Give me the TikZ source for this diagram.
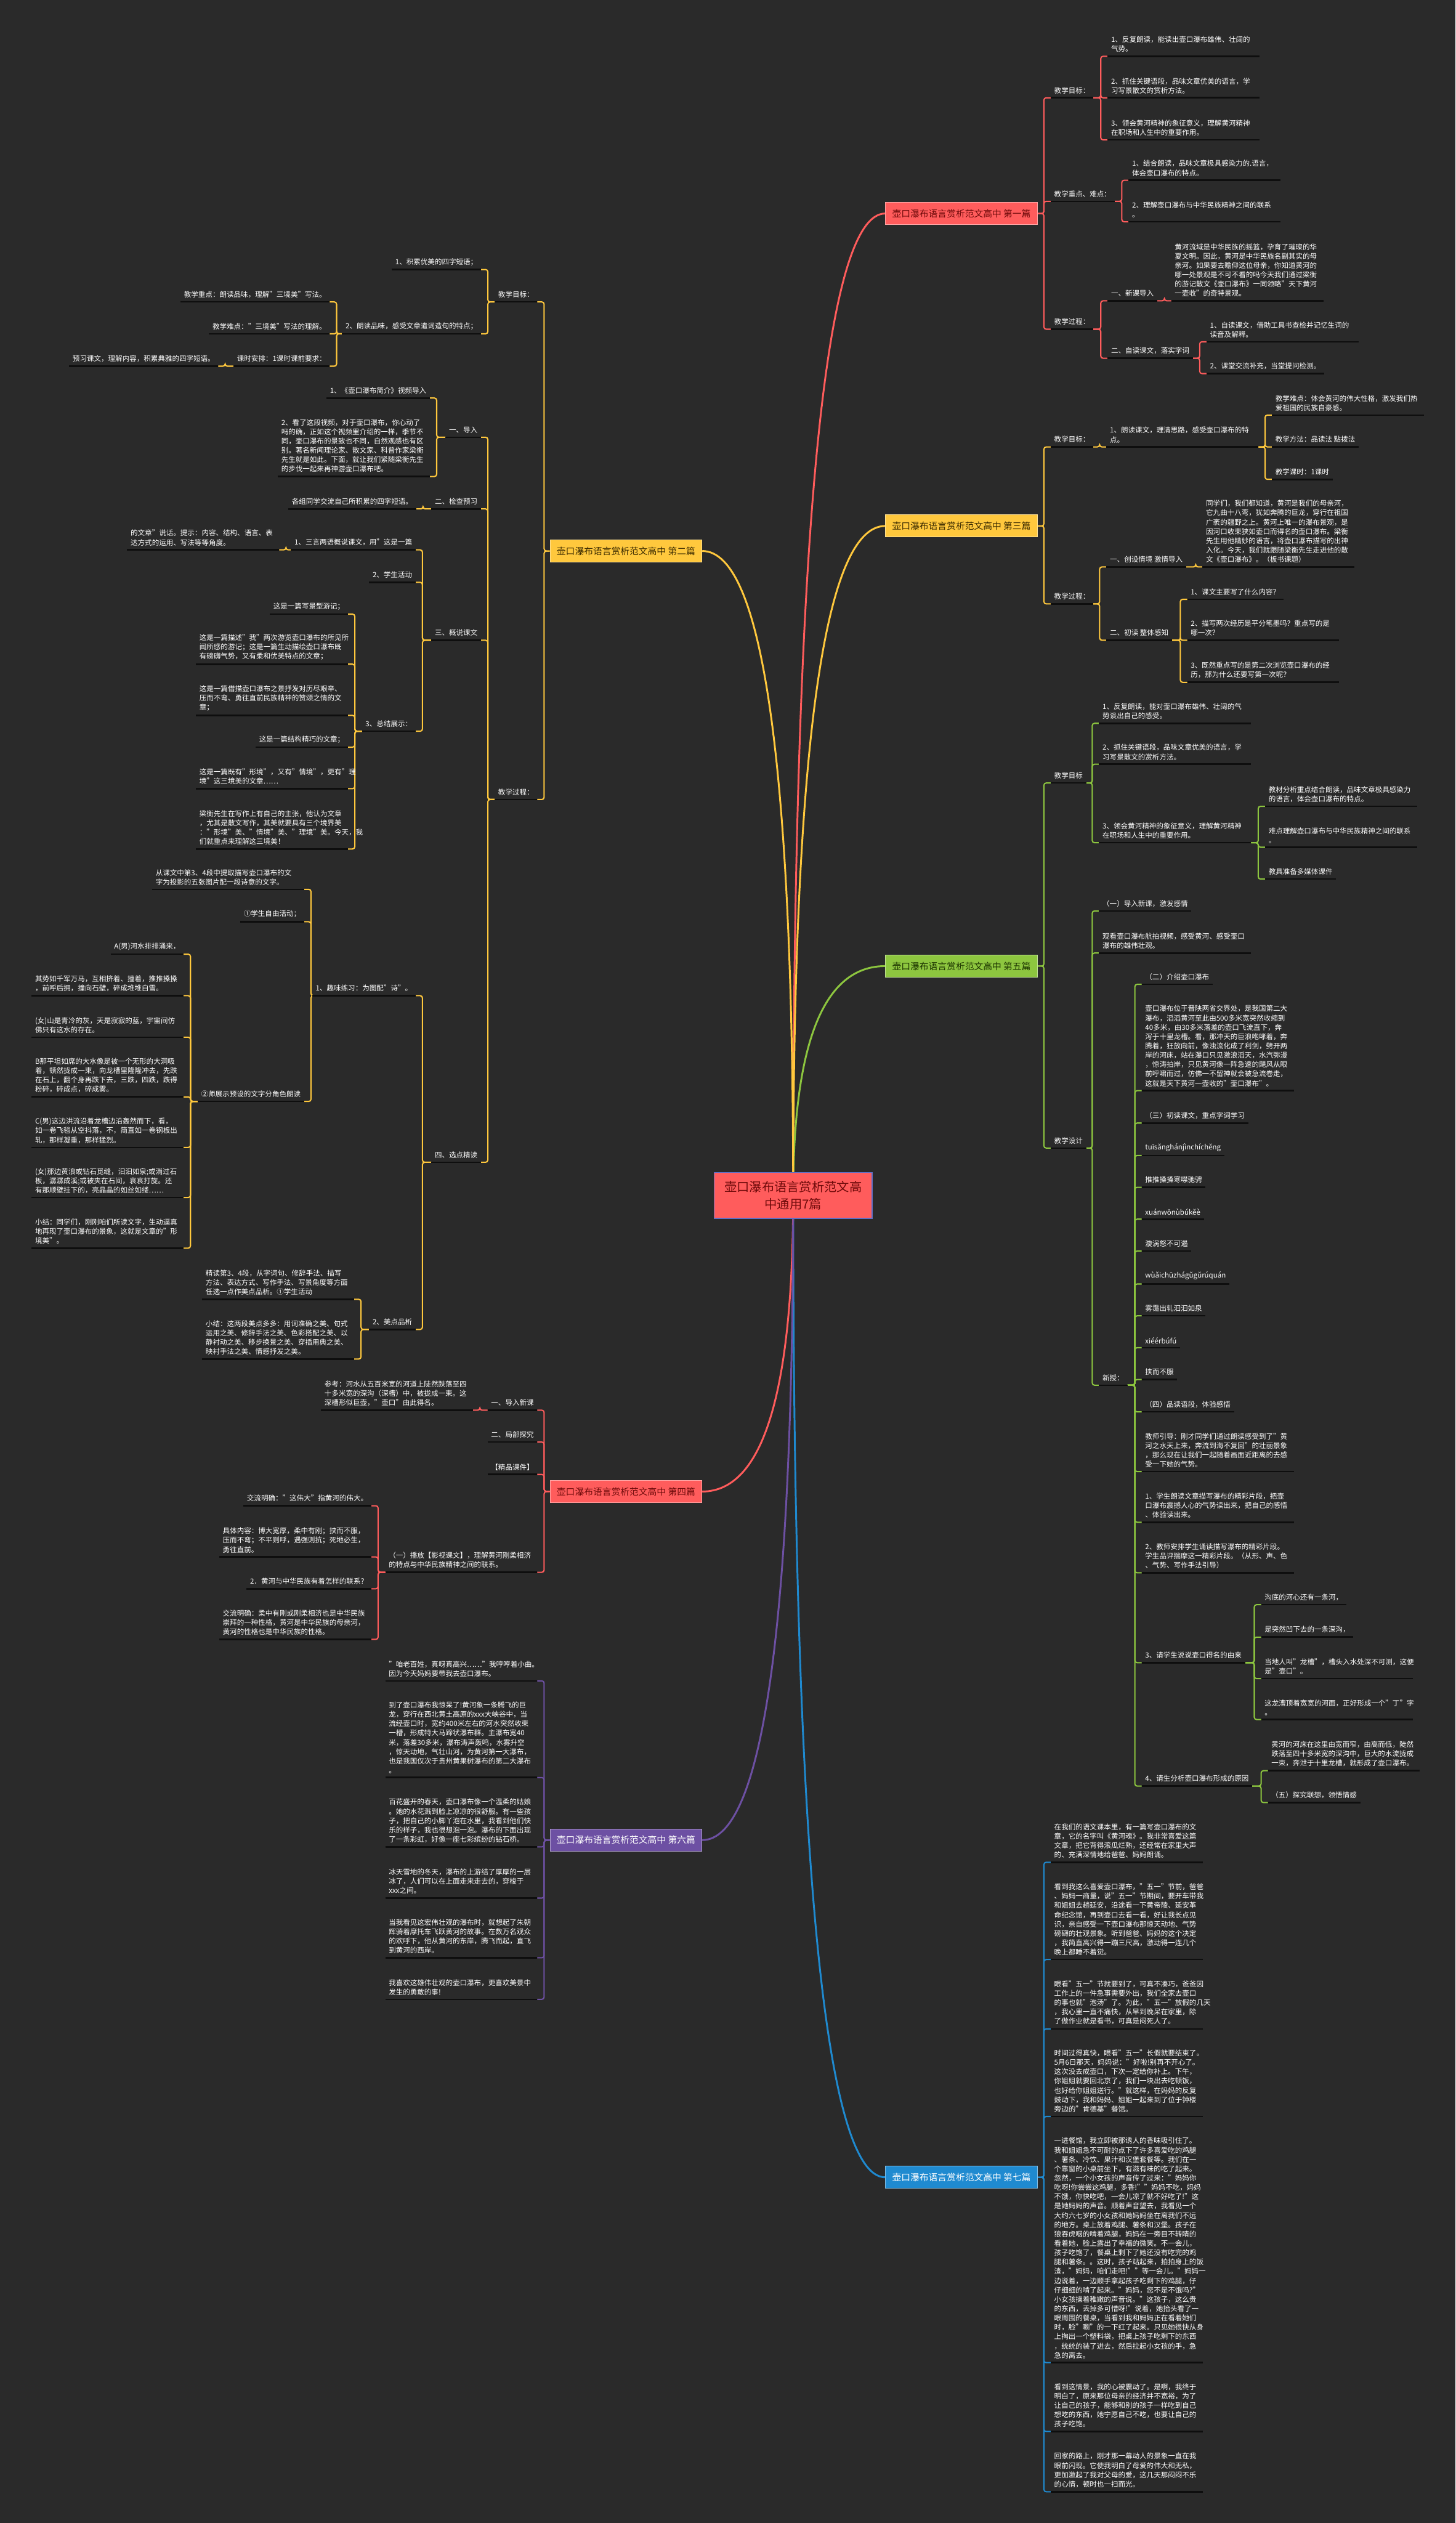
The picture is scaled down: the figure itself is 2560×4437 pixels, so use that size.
\documentclass[tikz,border=0pt]{standalone}
\usepackage{fontspec}
\setmainfont{Noto Sans CJK SC}
\usetikzlibrary{calc}
\definecolor{bgc}{HTML}{2A2A2A}
\definecolor{cred}{HTML}{FF5C5C}
\definecolor{cyel}{HTML}{FFC83D}
\definecolor{cgrn}{HTML}{8DC63F}
\definecolor{cblu}{HTML}{1F8AD0}
\definecolor{cpur}{HTML}{6D50A3}
\definecolor{ulc}{HTML}{0E0E0E}
\definecolor{tred}{HTML}{6E0A0A}
\definecolor{tdark}{HTML}{3A2A00}
\definecolor{tgrn}{HTML}{1B3300}
\definecolor{cbord}{HTML}{5E6FC6}
\pgfdeclarelayer{bg}\pgfdeclarelayer{lines}
\pgfsetlayers{bg,lines,main}
\newcommand\fs{\fontsize{12.5}{16.4}\selectfont}
\begin{document}
\begin{tikzpicture}[x=1pt,y=-1pt,
 leaf/.style={font=\fs, text=white, align=left, inner xsep=6pt, inner ysep=7pt},
 R/.style={leaf, anchor=south west},
 L/.style={leaf, anchor=south east},
 M/.style={text width=255pt},
 title/.style={font=\fontsize{16}{20}\selectfont, minimum width=267pt, minimum height=39pt, inner sep=0pt, line width=1.2pt},
 ul/.style={draw=ulc, line width=2.8pt},
 con/.style={line width=2.2pt, rounded corners=4pt},
 cv/.style={line width=3.2pt}]
\useasboundingbox (0,0) rectangle (2560,4437);
\begin{pgfonlayer}{bg}\fill[bgc] (0,0) rectangle (2560,4437);\end{pgfonlayer}

% centre
\node[fill=cred, draw=cbord, line width=2pt, text=tred, font=\fontsize{22}{30}\selectfont, align=center, minimum width=278pt, minimum height=81pt, inner sep=0pt] (c) at (1395,2102.5) {壶口瀑布语言赏析范文高\\中通用7篇};

% title boxes
\node[title, fill=cred, draw=cred!55!white, text=tred] (b1) at (1691,375.5) {壶口瀑布语言赏析范文高中 第一篇};
\node[title, fill=cyel, draw=cyel!55!white, text=tdark] (b3) at (1691,925) {壶口瀑布语言赏析范文高中 第三篇};
\node[title, fill=cgrn, draw=cgrn!55!white, text=tgrn] (b5) at (1691,1699) {壶口瀑布语言赏析范文高中 第五篇};
\node[title, fill=cblu, draw=cblu!55!white, text=white] (b7) at (1691,3829) {壶口瀑布语言赏析范文高中 第七篇};
\node[title, fill=cyel, draw=cyel!55!white, text=tdark] (b2) at (1101,969) {壶口瀑布语言赏析范文高中 第二篇};
\node[title, fill=cred, draw=cred!55!white, text=tred] (b4) at (1101,2623) {壶口瀑布语言赏析范文高中 第四篇};
\node[title, fill=cpur, draw=cpur!55!white, text=white] (b6) at (1101,3236) {壶口瀑布语言赏析范文高中 第六篇};

% ---------- 第一篇
\node[R] (n1a) at (1848,172) {教学目标：};
\node[R,M] (n1a1) at (1948,99) {1、反复朗读，能读出壶口瀑布雄伟、壮阔的\\气势。};
\node[R,M] (n1a2) at (1948,172) {2、抓住关键语段，品味文章优美的语言，学\\习写景散文的赏析方法。};
\node[R,M] (n1a3) at (1948,246) {3、领会黄河精神的象征意义，理解黄河精神\\在职场和人生中的重要作用。};
\node[R] (n1b) at (1848,354) {教学重点、难点：};
\node[R,M] (n1b1) at (1985,317) {1、结合朗读，品味文章极具感染力的.语言，\\体会壶口瀑布的特点。};
\node[R,M] (n1b2) at (1985,390) {2、理解壶口瀑布与中华民族精神之间的联系\\。};
\node[R] (n1c) at (1848,579) {教学过程：};
\node[R] (n1c1) at (1948,529) {一、新课导入};
\node[R,M] (n1c1a) at (2060,529) {黄河流域是中华民族的摇篮，孕育了璀璨的华\\夏文明。因此，黄河是中华民族名副其实的母\\亲河。如果要去瞻仰这位母亲，你知道黄河的\\哪一处景观是不可不看的吗今天我们通过梁衡\\的游记散文《壶口瀑布》一同领略"天下黄河\\一壶收"的奇特景观。};
\node[R] (n1c2) at (1948,630) {二、自读课文，落实字词};
\node[R,M] (n1c2a) at (2122,601) {1、自读课文，借助工具书查检并记忆生词的\\读音及解释。};
\node[R] (n1c2b) at (2122,657) {2、课堂交流补充，当堂提问检测。};

% ---------- 第三篇
\node[R] (n3a) at (1848,786) {教学目标：};
\node[R,M] (n3a1) at (1946,786) {1、朗读课文，理清思路，感受壶口瀑布的特\\点。};
\node[R,M] (n3a1a) at (2237,730) {教学难点：体会黄河的伟大性格，激发我们热\\爱祖国的民族自豪感。};
\node[R] (n3a1b) at (2237,786) {教学方法：品读法 點拨法};
\node[R] (n3a1c) at (2237,843) {教学课时：1课时};
\node[R] (n3b) at (1848,1062) {教学过程：};
\node[R] (n3b1) at (1946,997) {一、创设情境 激情导入};
\node[R,M] (n3b1a) at (2115,997) {同学们，我们都知道，黄河是我们的母亲河，\\它九曲十八弯，犹如奔腾的巨龙，穿行在祖国\\广袤的疆野之上。黄河上唯一的瀑布景观，是\\因河口收束狭如壶口而得名的壶口瀑布。梁衡\\先生用他精妙的语言，将壶口瀑布描写的出神\\入化。今天，我们就跟随梁衡先生走进他的散\\文《壶口瀑布》。（板书课题）};
\node[R] (n3b2) at (1946,1126) {二、初读 整体感知};
\node[R] (n3b2a) at (2088,1054) {1、课文主要写了什么内容？};
\node[R,M] (n3b2b) at (2088,1126) {2、描写两次经历是平分笔墨吗？重点写的是\\哪一次？};
\node[R,M] (n3b2c) at (2088,1200) {3、既然重点写的是第二次浏览壶口瀑布的经\\历，那为什么还要写第一次呢？};

% ---------- 第五篇
\node[R] (n5a) at (1848,1377) {教学目标};
\node[R,M] (n5a1) at (1933,1272) {1、反复朗读，能对壶口瀑布雄伟、壮阔的气\\势谈出自己的感受。};
\node[R,M] (n5a2) at (1933,1344) {2、抓住关键语段，品味文章优美的语言，学\\习写景散文的赏析方法。};
\node[R,M] (n5a3) at (1933,1482) {3、领会黄河精神的象征意义，理解黄河精神\\在职场和人生中的重要作用。};
\node[R,M] (n5a3a) at (2225,1418) {教材分析重点结合朗读，品味文章极具感染力\\的语言，体会壶口瀑布的特点。};
\node[R,M] (n5a3b) at (2225,1490) {难点理解壶口瀑布与中华民族精神之间的联系\\。};
\node[R] (n5a3c) at (2225,1546) {教具准备多媒体课件};
\node[R] (n5b) at (1848,2019) {教学设计};
\node[R] (n5b1) at (1933,1602) {（一）导入新课，激发感情};
\node[R,M] (n5b2) at (1933,1676) {观看壶口瀑布航拍视频，感受黄河、感受壶口\\瀑布的雄伟壮观。};
\node[R] (n5b3) at (1933,2436) {新授：};
\node[R] (n5c1) at (2008,1731) {（二）介绍壶口瀑布};
\node[R,M] (n5c2) at (2008,1918) {壶口瀑布位于晋陕两省交界处，是我国第二大\\瀑布，滔滔黄河至此由500多米宽突然收缩到\\40多米，由30多米落差的壶口飞流直下，奔\\泻于十里龙槽。看，那冲天的巨浪咆哮着，奔\\腾着，狂放向前，像浊流化成了利剑，劈开两\\岸的河床，站在瀑口只见激浪滔天，水汽弥漫\\，惊涛拍岸，只见黄河像一阵急速的飓风从眼\\前呼啸而过，仿佛一不留神就会被急流卷走，\\这就是天下黄河一壶收的"壶口瀑布"。};
\node[R] (n5c3) at (2008,1975) {（三）初读课文，重点字词学习};
\node[R] (n5c4) at (2008,2032) {tuīsǎnghánjìnchíchěng};
\node[R] (n5c5) at (2008,2088) {推推搡搡寒噤驰骋};
\node[R] (n5c6) at (2008,2144) {xuánwōnùbúkěè};
\node[R] (n5c7) at (2008,2200) {漩涡怒不可遏};
\node[R] (n5c8) at (2008,2258) {wùǎichūzhágǔgǔrúquán};
\node[R] (n5c9) at (2008,2314) {雾霭出轧汩汩如泉};
\node[R] (n5c10) at (2008,2370) {xiéérbúfú};
\node[R] (n5c11) at (2008,2426) {挟而不服};
\node[R] (n5c12) at (2008,2483) {（四）品读语段，体验感悟};
\node[R,M] (n5c13) at (2008,2588) {教师引导：刚才同学们通过朗读感受到了"黄\\河之水天上来，奔流到海不复回"的壮丽景象\\，那么现在让我们一起随着画面近距离的去感\\受一下她的气势。};
\node[R,M] (n5c14) at (2008,2677) {1、学生朗读文章描写瀑布的精彩片段，把壶\\口瀑布震撼人心的气势读出来，把自己的感悟\\、体验读出来。};
\node[R,M] (n5c15) at (2008,2766) {2、教师安排学生诵读描写瀑布的精彩片段。\\学生品评揣摩这一精彩片段。（从形、声、色\\、气势、写作手法引导）};
\node[R] (n5c16) at (2008,2924) {3、请学生说说壶口得名的由来};
\node[R] (n5d1) at (2218,2822) {沟底的河心还有一条河，};
\node[R] (n5d2) at (2218,2879) {是突然凹下去的一条深沟，};
\node[R,M] (n5d3) at (2218,2952) {当地人叫"龙槽"，槽头入水处深不可测，这便\\是"壶口"。};
\node[R,M] (n5d4) at (2218,3024) {这龙漕顶着宽宽的河面，正好形成一个"丁"字\\。};
\node[R] (n5c17) at (2008,3141) {4、请生分析壶口瀑布形成的原因};
\node[R,M] (n5e1) at (2230,3114) {黄河的河床在这里由宽而窄，由高而低，陡然\\跌落至四十多米宽的深沟中，巨大的水流拢成\\一束，奔泄于十里龙槽，就形成了壶口瀑布。};
\node[R] (n5e2) at (2230,3170) {（五）探究联想，领悟情感};

% ---------- 第七篇
\node[R,M] (n7a) at (1848,3275) {在我们的语文课本里，有一篇写壶口瀑布的文\\章，它的名字叫《黄河魂》。我非常喜爱这篇\\文章，把它背得滚瓜烂熟，还经常在家里大声\\的、充满深情地给爸爸、妈妈朗诵。};
\node[R,M] (n7b) at (1848,3446) {看到我这么喜爱壶口瀑布，"五一"节前，爸爸\\、妈妈一商量，说"五一"节期间，要开车带我\\和姐姐去趟延安，沿途看一下黄帝陵、延安革\\命纪念馆，再到壶口去看一看，好让我长点见\\识，亲自感受一下壶口瀑布那惊天动地、气势\\磅礴的壮观景象。听到爸爸、妈妈的这个决定\\，我简直高兴得一蹦三尺高，激动得一连几个\\晚上都睡不着觉。};
\node[R,M] (n7c) at (1848,3568) {眼看"五一"节就要到了，可真不凑巧，爸爸因\\工作上的一件急事需要外出，我们全家去壶口\\的事也就"泡汤"了。为此，"五一"放假的几天\\，我心里一直不痛快，从早到晚呆在家里，除\\了做作业就是看书，可真是闷死人了。};
\node[R,M] (n7d) at (1848,3722) {时间过得真快，眼看"五一"长假就要结束了。\\5月6日那天，妈妈说："好啦!别再不开心了。\\这次没去成壶口，下次一定给你补上。下午，\\你姐姐就要回北京了，我们一块出去吃顿饭，\\也好给你姐姐送行。"就这样，在妈妈的反复\\鼓动下，我和妈妈、姐姐一起来到了位于钟楼\\旁边的"肯德基"餐馆。};
\node[R,M] (n7e) at (1848,4155) {一进餐馆，我立即被那诱人的香味吸引住了。\\我和姐姐急不可耐的点下了许多喜爱吃的鸡腿\\、薯条、冷饮、果汁和汉堡套餐等。我们在一\\个靠窗的小桌前坐下，有滋有味的吃了起来。\\忽然，一个小女孩的声音传了过来："妈妈你\\吃呀!你尝尝这鸡腿，多香!""妈妈不吃，妈妈\\不饿，你快吃吧，一会儿凉了就不好吃了!"这\\是她妈妈的声音。顺着声音望去，我看见一个\\大约六七岁的小女孩和她妈妈坐在离我们不远\\的地方。桌上放着鸡腿、薯条和汉堡。孩子在\\狼吞虎咽的啃着鸡腿，妈妈在一旁目不转睛的\\看着她，脸上露出了幸福的微笑。不一会儿，\\孩子吃饱了，餐桌上剩下了她还没有吃完的鸡\\腿和薯条。。这时，孩子站起来，拍拍身上的饭\\渣，"妈妈，咱们走吧!""等一会儿。"妈妈一\\边说着，一边顺手拿起孩子吃剩下的鸡腿，仔\\仔细细的啃了起来。"妈妈，您不是不饿吗?"\\小女孩操着稚嫩的声音说。"这孩子，这么贵\\的东西，丢掉多可惜呀!"说着，她抬头看了一\\眼周围的餐桌，当看到我和妈妈正在看着她们\\时，脸"唰"的一下红了起来。只见她很快从身\\上掏出一个塑料袋，把桌上孩子吃剩下的东西\\，统统的装了进去，然后拉起小女孩的手，急\\急的离去。};
\node[R,M] (n7f) at (1848,4276) {看到这情景，我的心被震动了。是啊，我终于\\明白了，原来那位母亲的经济并不宽裕，为了\\让自己的孩子，能够和别的孩子一样吃到自己\\想吃的东西，她宁愿自己不吃，也要让自己的\\孩子吃饱。};
\node[R,M] (n7g) at (1848,4382) {回家的路上，刚才那一幕动人的景象一直在我\\眼前闪现。它使我明白了母爱的伟大和无私，\\更加激起了我对父母的爱，这几天那闷闷不乐\\的心情，顿时也一扫而光。};

% ---------- 第二篇
\node[L] (m2a) at (945,531) {教学目标：};
\node[L] (m2a1) at (846,474) {1、积累优美的四字短语；};
\node[L] (m2a2) at (846,587) {2、朗读品味，感受文章遣词造句的特点；};
\node[L] (m2b1) at (580,531) {教学重点：朗读品味，理解"三境美"写法。};
\node[L] (m2b2) at (580,587) {教学难点："三境美"写法的理解。};
\node[L] (m2b3) at (580,644) {课时安排：1课时课前要求：};
\node[L] (m2b3a) at (384,644) {预习课文，理解内容，积累典雅的四字短语。};
\node[L] (m2c) at (945,1406) {教学过程：};
\node[L] (m2c1) at (846,769) {一、导入};
\node[L] (m2c1a) at (756,700) {1、《壶口瀑布简介》视频导入};
\node[L,M] (m2c1b) at (756,838) {2、看了这段视频，对于壶口瀑布，你心动了\\吗的确，正如这个视频里介绍的一样，季节不\\同，壶口瀑布的景致也不同，自然观感也有区\\别。著名新闻理论家、散文家、科普作家梁衡\\先生就是如此。下面，就让我们紧随梁衡先生\\的步伐一起来再神游壶口瀑布吧。};
\node[L] (m2c2) at (846,895) {二、检查预习};
\node[L] (m2c2a) at (732,895) {各组同学交流自己所积累的四字短语。};
\node[L] (m2c3) at (846,1126) {三、概说课文};
\node[L] (m2d1) at (731,967) {1、三言两语概说课文，用"这是一篇};
\node[L,M] (m2d1a) at (491,967) {的文章"说话。提示：内容、结构、语言、表\\达方式的运用、写法等等角度。};
\node[L] (m2d2) at (731,1024) {2、学生活动};
\node[L] (m2d3) at (731,1286) {3、总结展示：};
\node[L] (m2e1) at (612,1080) {这是一篇写景型游记；};
\node[L,M] (m2e2) at (612,1168) {这是一篇描述"我"两次游览壶口瀑布的所见所\\闻所感的游记；这是一篇生动描绘壶口瀑布既\\有磅礴气势，又有柔和优美特点的文章；};
\node[L,M] (m2e3) at (612,1258) {这是一篇借描壶口瀑布之景抒发对历尽艰辛、\\压而不弯、勇往直前民族精神的赞颂之情的文\\章；};
\node[L] (m2e4) at (612,1314) {这是一篇结构精巧的文章；};
\node[L,M] (m2e5) at (612,1387) {这是一篇既有"形境"，又有"情境"，更有"理\\境"这三境美的文章……};
\node[L,M] (m2e6) at (612,1493) {梁衡先生在写作上有自己的主张，他认为文章\\，尤其是散文写作，其美就要具有三个境界美\\："形境"美、"情境"美、"理境"美。今天，我\\们就重点来理解这三境美！};
\node[L] (m2c4) at (846,2044) {四、选点精读};
\node[L] (m2f1) at (731,1751) {1、趣味练习：为图配"诗"。};
\node[L,M] (m2g1) at (535,1564) {从课文中第3、4段中提取描写壶口瀑布的文\\字为投影的五张图片配一段诗意的文字。};
\node[L] (m2g2) at (535,1621) {①学生自由活动；};
\node[L] (m2g3) at (535,1937) {②师展示预设的文字分角色朗读};
\node[L] (m2h1) at (323,1678) {A(男)河水排排涌来，};
\node[L,M] (m2h2) at (323,1751) {其势如千军万马，互相挤着、撞着，推推搡搡\\，前呼后拥，撞向石壁，碎成堆堆白雪。};
\node[L,M] (m2h3) at (323,1824) {(女)山是青冷的灰，天是寂寂的蓝，宇宙间仿\\佛只有这水的存在。};
\node[L,M] (m2h4) at (323,1929) {B那平坦如席的大水像是被一个无形的大洞吸\\着，顿然拢成一束，向龙槽里隆隆冲去，先跌\\在石上，翻个身再跌下去，三跌，四跌，跌得\\粉碎，碎成点，碎成雾。};
\node[L,M] (m2h5) at (323,2018) {C(男)这边洪流沿着龙槽边沿轰然而下，看，\\如一卷飞毯从空抖落，不，简直如一卷钢板出\\轧，那样凝重，那样猛烈。};
\node[L,M] (m2h6) at (323,2106) {(女)那边黄浪或钻石觅缝，汩汩如泉;或淌过石\\板，潺潺成溪;或被夹在石间，哀哀打旋。还\\有那顺壁挂下的，亮晶晶的如丝如缕……};
\node[L,M] (m2h7) at (323,2195) {小结：同学们，刚刚咱们所读文字，生动逼真\\地再现了壶口瀑布的景象，这就是文章的"形\\境美"。};
\node[L] (m2f2) at (731,2338) {2、美点品析};
\node[L,M] (m2i1) at (623,2285) {精读第3、4段，从字词句、修辞手法、描写\\方法、表达方式、写作手法、写景角度等方面\\任选一点作美点品析。①学生活动};
\node[L,M] (m2i2) at (623,2390) {小结：这两段美点多多：用词准确之美、句式\\运用之美、修辞手法之美、色彩搭配之美、以\\静衬动之美、移步换景之美、穿插用典之美、\\映衬手法之美、情感抒发之美。};

% ---------- 第四篇
\node[L] (m4a) at (945,2480) {一、导入新课};
\node[L,M] (m4a1) at (832,2480) {参考：河水从五百米宽的河道上陡然跌落至四\\十多米宽的深沟（深槽）中，被拢成一束。这\\深槽形似巨壶，"壶口"由此得名。};
\node[L] (m4b) at (945,2536) {二、局部探究};
\node[L] (m4c) at (945,2593) {【精品课件】};
\node[L,M] (m4d) at (945,2765) {（一）播放【影视课文】，理解黄河刚柔相济\\的特点与中华民族精神之间的联系。};
\node[L] (m4d1) at (653,2648) {交流明确："这伟大"指黄河的伟大。};
\node[L,M] (m4d2) at (653,2738) {具体内容：博大宽厚，柔中有刚；挟而不服，\\压而不弯；不平则呼，遇强则抗；死地必生，\\勇往直前。};
\node[L] (m4d3) at (653,2794) {2．黄河与中华民族有着怎样的联系？};
\node[L,M] (m4d4) at (653,2883) {交流明确：柔中有刚或刚柔相济也是中华民族\\崇拜的一种性格，黄河是中华民族的母亲河，\\黄河的性格也是中华民族的性格。};

% ---------- 第六篇
\node[L,M] (m6a) at (945,2956) {"咱老百姓，真呀真高兴……"我哼哼着小曲。\\因为今天妈妈要带我去壶口瀑布。};
\node[L,M] (m6b) at (945,3126) {到了壶口瀑布我惊呆了!黄河象一条腾飞的巨\\龙，穿行在西北黄土高原的xxx大峡谷中，当\\流经壶口时，宽约400米左右的河水突然收束\\一槽，形成特大马蹄状瀑布群。主瀑布宽40\\米，落差30多米，瀑布涛声轰鸣，水雾升空\\，惊天动地，气壮山河，为黄河第一大瀑布，\\也是我国仅次于贵州黄果树瀑布的第二大瀑布\\。};
\node[L,M] (m6c) at (945,3248) {百花盛开的春天，壶口瀑布像一个温柔的姑娘\\。她的水花溅到脸上凉凉的很舒服。有一些孩\\子，把自己的小脚丫泡在水里，我看到他们快\\乐的样子，我也很想泡一泡。瀑布的下面出现\\了一条彩虹，好像一座七彩缤纷的钻石桥。};
\node[L,M] (m6d) at (945,3338) {冰天雪地的冬天，瀑布的上游结了厚厚的一层\\冰了，人们可以在上面走来走去的，穿梭于\\xxx之间。};
\node[L,M] (m6e) at (945,3443) {当我看见这宏伟壮观的瀑布时，就想起了朱朝\\辉骑着摩托车飞跃黄河的故事。在数万名观众\\的欢呼下，他从黄河的东岸，腾飞而起，直飞\\到黄河的西岸。};
\node[L,M] (m6f) at (945,3516) {我喜欢这雄伟壮观的壶口瀑布，更喜欢美景中\\发生的勇敢的事!};

\begin{pgfonlayer}{lines}
% curves from centre
\foreach \b/\col in {b1/cred,b3/cyel,b5/cgrn,b7/cblu}{
  \coordinate (k) at (c.center|-\b.west);
  \draw[cv,\col] (c.center) .. controls ($(c.center)!0.6667!(k)$) and ($(\b.west)!0.6667!(k)$) .. (\b.west);
}
\foreach \b/\col in {b2/cyel,b4/cred,b6/cpur}{
  \coordinate (k) at (c.center|-\b.east);
  \draw[cv,\col] (c.center) .. controls ($(c.center)!0.6667!(k)$) and ($(\b.east)!0.6667!(k)$) .. (\b.east);
}
% root connectors right
\foreach \b/\n/\col in {b1/n1a/cred,b1/n1b/cred,b1/n1c/cred,b3/n3a/cyel,b3/n3b/cyel,b5/n5a/cgrn,b5/n5b/cgrn,
  b7/n7a/cblu,b7/n7b/cblu,b7/n7c/cblu,b7/n7d/cblu,b7/n7e/cblu,b7/n7f/cblu,b7/n7g/cblu}
  \draw[con,\col] (\b.east) -| ($(\n.south west)+(-12,0)$) -- (\n.south west);
% root connectors left
\foreach \b/\n/\col in {b2/m2a/cyel,b2/m2c/cyel,b4/m4a/cred,b4/m4b/cred,b4/m4c/cred,b4/m4d/cred,
  b6/m6a/cpur,b6/m6b/cpur,b6/m6c/cpur,b6/m6d/cpur,b6/m6e/cpur,b6/m6f/cpur}
  \draw[con,\col] (\b.west) -| ($(\n.south east)+(12,0)$) -- (\n.south east);
% inner connectors right
\foreach \p/\n/\col in {n1a/n1a1/cred,n1a/n1a2/cred,n1a/n1a3/cred,n1b/n1b1/cred,n1b/n1b2/cred,
  n1c/n1c1/cred,n1c/n1c2/cred,n1c1/n1c1a/cred,n1c2/n1c2a/cred,n1c2/n1c2b/cred,
  n3a/n3a1/cyel,n3a1/n3a1a/cyel,n3a1/n3a1b/cyel,n3a1/n3a1c/cyel,n3b/n3b1/cyel,n3b/n3b2/cyel,
  n3b1/n3b1a/cyel,n3b2/n3b2a/cyel,n3b2/n3b2b/cyel,n3b2/n3b2c/cyel,
  n5a/n5a1/cgrn,n5a/n5a2/cgrn,n5a/n5a3/cgrn,n5a3/n5a3a/cgrn,n5a3/n5a3b/cgrn,n5a3/n5a3c/cgrn,
  n5b/n5b1/cgrn,n5b/n5b2/cgrn,n5b/n5b3/cgrn,
  n5b3/n5c1/cgrn,n5b3/n5c2/cgrn,n5b3/n5c3/cgrn,n5b3/n5c4/cgrn,n5b3/n5c5/cgrn,n5b3/n5c6/cgrn,
  n5b3/n5c7/cgrn,n5b3/n5c8/cgrn,n5b3/n5c9/cgrn,n5b3/n5c10/cgrn,n5b3/n5c11/cgrn,n5b3/n5c12/cgrn,
  n5b3/n5c13/cgrn,n5b3/n5c14/cgrn,n5b3/n5c15/cgrn,n5b3/n5c16/cgrn,n5b3/n5c17/cgrn,
  n5c16/n5d1/cgrn,n5c16/n5d2/cgrn,n5c16/n5d3/cgrn,n5c16/n5d4/cgrn,n5c17/n5e1/cgrn,n5c17/n5e2/cgrn}
  \draw[con,\col] (\p.south east) -| ($(\n.south west)+(-12,0)$) -- (\n.south west);
% inner connectors left
\foreach \p/\n/\col in {m2a/m2a1/cyel,m2a/m2a2/cyel,m2a2/m2b1/cyel,m2a2/m2b2/cyel,m2a2/m2b3/cyel,m2b3/m2b3a/cyel,
  m2c/m2c1/cyel,m2c/m2c2/cyel,m2c/m2c3/cyel,m2c/m2c4/cyel,m2c1/m2c1a/cyel,m2c1/m2c1b/cyel,m2c2/m2c2a/cyel,
  m2c3/m2d1/cyel,m2c3/m2d2/cyel,m2c3/m2d3/cyel,m2d1/m2d1a/cyel,
  m2d3/m2e1/cyel,m2d3/m2e2/cyel,m2d3/m2e3/cyel,m2d3/m2e4/cyel,m2d3/m2e5/cyel,m2d3/m2e6/cyel,
  m2c4/m2f1/cyel,m2c4/m2f2/cyel,m2f1/m2g1/cyel,m2f1/m2g2/cyel,m2f1/m2g3/cyel,
  m2g3/m2h1/cyel,m2g3/m2h2/cyel,m2g3/m2h3/cyel,m2g3/m2h4/cyel,m2g3/m2h5/cyel,m2g3/m2h6/cyel,m2g3/m2h7/cyel,
  m2f2/m2i1/cyel,m2f2/m2i2/cyel,
  m4a/m4a1/cred,m4d/m4d1/cred,m4d/m4d2/cred,m4d/m4d3/cred,m4d/m4d4/cred}
  \draw[con,\col] (\p.south west) -| ($(\n.south east)+(12,0)$) -- (\n.south east);
% underlines
\foreach \n in {n1a,n1a1,n1a2,n1a3,n1b,n1b1,n1b2,n1c,n1c1,n1c1a,n1c2,n1c2a,n1c2b,
  n3a,n3a1,n3a1a,n3a1b,n3a1c,n3b,n3b1,n3b1a,n3b2,n3b2a,n3b2b,n3b2c,
  n5a,n5a1,n5a2,n5a3,n5a3a,n5a3b,n5a3c,n5b,n5b1,n5b2,n5b3,
  n5c1,n5c2,n5c3,n5c4,n5c5,n5c6,n5c7,n5c8,n5c9,n5c10,n5c11,n5c12,n5c13,n5c14,n5c15,n5c16,n5c17,
  n5d1,n5d2,n5d3,n5d4,n5e1,n5e2,n7a,n7b,n7c,n7d,n7e,n7f,n7g,
  m2a,m2a1,m2a2,m2b1,m2b2,m2b3,m2b3a,m2c,m2c1,m2c1a,m2c1b,m2c2,m2c2a,m2c3,m2d1,m2d1a,m2d2,m2d3,
  m2e1,m2e2,m2e3,m2e4,m2e5,m2e6,m2c4,m2f1,m2g1,m2g2,m2g3,m2h1,m2h2,m2h3,m2h4,m2h5,m2h6,m2h7,
  m2f2,m2i1,m2i2,m4a,m4a1,m4b,m4c,m4d,m4d1,m4d2,m4d3,m4d4,m6a,m6b,m6c,m6d,m6e,m6f}
  \draw[ul] (\n.south west) -- (\n.south east);
\end{pgfonlayer}
\end{tikzpicture}
\end{document}
